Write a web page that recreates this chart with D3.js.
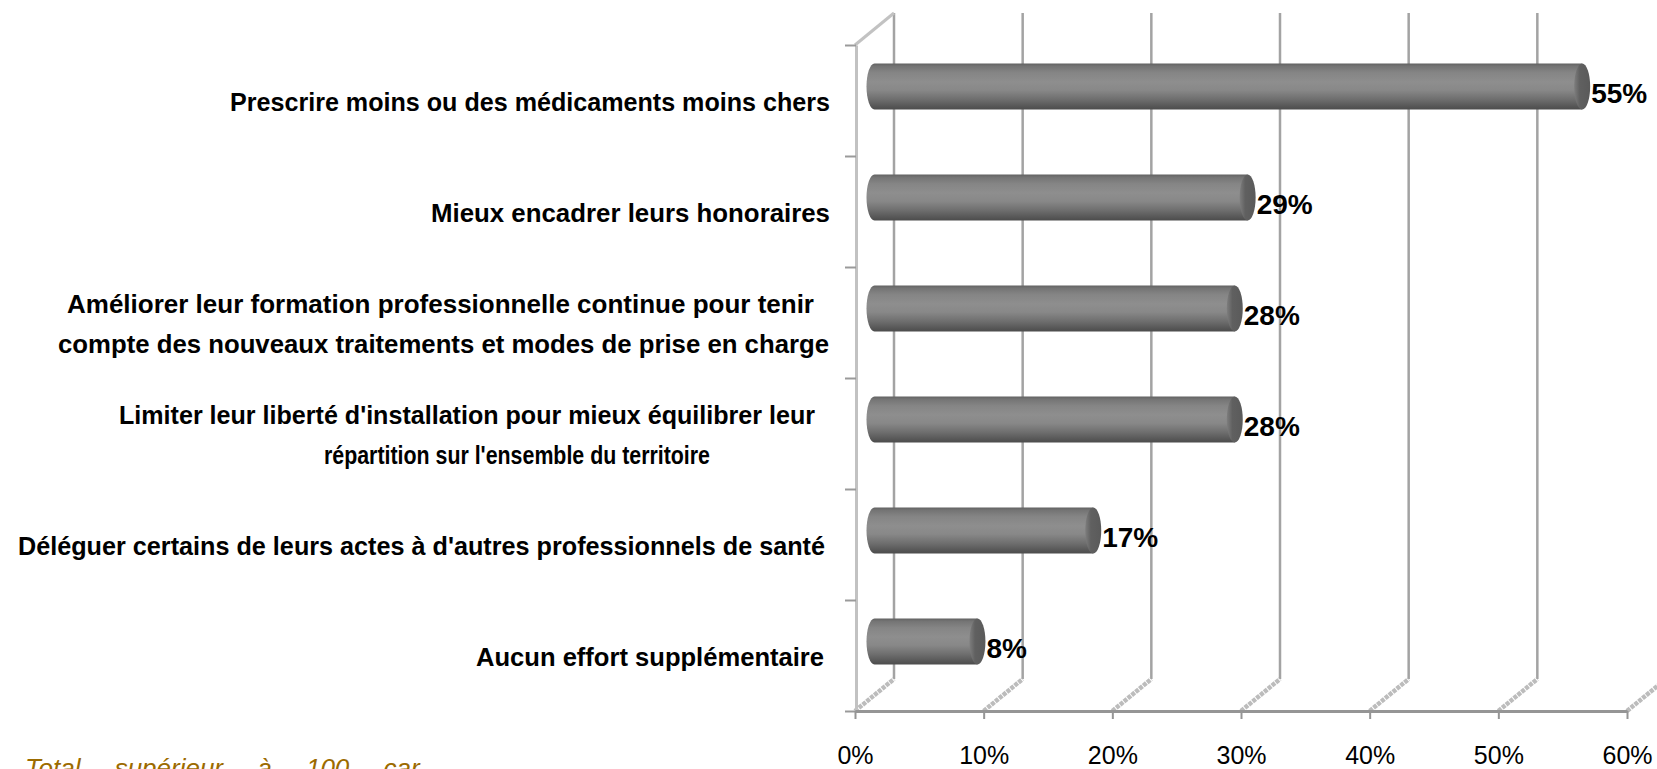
<!DOCTYPE html>
<html>
<head>
<meta charset="utf-8">
<script src="https://cdn.jsdelivr.net/npm/d3@7"></script>
<style>
  html, body { margin: 0; padding: 0; background: #fff; }
  svg { display: block; }
  text { font-family: "Liberation Sans", Arial, sans-serif; }
</style>
</head>
<body>
<svg id="chart" width="1657" height="769"></svg>
<script>
// ---------- data ----------
const categories = [
  "Prescrire moins ou des médicaments moins chers",
  "Mieux encadrer leurs honoraires",
  "Améliorer leur formation professionnelle continue pour tenir compte des nouveaux traitements et modes de prise en charge",
  "Limiter leur liberté d'installation pour mieux équilibrer leur répartition sur l'ensemble du territoire",
  "Déléguer certains de leurs actes à d'autres professionnels de santé",
  "Aucun effort supplémentaire"
];
const categoryLines = [
  ["Prescrire moins ou des médicaments moins chers"],
  ["Mieux encadrer leurs honoraires"],
  ["Améliorer leur formation professionnelle continue pour tenir", "compte des nouveaux traitements et modes de prise en charge"],
  ["Limiter leur liberté d'installation pour mieux équilibrer leur", "répartition sur l'ensemble du territoire"],
  ["Déléguer certains de leurs actes à d'autres professionnels de santé"],
  ["Aucun effort supplémentaire"]
];
const values = [55, 29, 28, 28, 17, 8];
const xTicks = [0, 10, 20, 30, 40, 50, 60];
const footnote = "Total supérieur à 100 car";

// ---------- layout (not data) ----------
const W = 1657, H = 769;
const plot = { left: 855, right: 1627, top: 45, bottom: 711 };
const depth = { dx: 39, dy: -32 };
const barShift = { dx: 19.5, dy: -14 };
const barRy = 23, barRx = 8;
// horizontal extents of each category label line [start, end]
const labelExtents = [
  [[230, 830]],
  [[431, 830]],
  [[67, 814], [58, 829]],
  [[119, 815], [324, 710]],
  [[18, 825]],
  [[476, 824]]
];

const svg = d3.select("#chart");
const defs = svg.append("defs");

const x = d3.scaleLinear().domain([0, 60]).range([plot.left, plot.right]);
const band = d3.scaleBand().domain(d3.range(categories.length)).range([plot.top, plot.bottom]).padding(0);
const yAxisScale = d3.scaleLinear().domain([categories.length, 0]).range([plot.top, plot.bottom]);

// gradient for cylinder body
const grad = defs.append("linearGradient").attr("id", "cyl").attr("x1", 0).attr("y1", 0).attr("x2", 0).attr("y2", 1);
[[0, "#626262"], [0.06, "#747474"], [0.2, "#858585"], [0.4, "#8e8e8e"], [0.58, "#888888"], [0.78, "#6e6e6e"], [0.92, "#585858"], [1, "#4c4c4c"]]
  .forEach(([o, c]) => grad.append("stop").attr("offset", o).attr("stop-color", c));
const capGrad = defs.append("linearGradient").attr("id", "cap").attr("x1", 0).attr("y1", 0).attr("x2", 1).attr("y2", 0);
[[0, "#7e7e7e"], [0.35, "#606060"], [1, "#5a5a5a"]]
  .forEach(([o, c]) => capGrad.append("stop").attr("offset", o).attr("stop-color", c));

// ---------- back wall gridlines ----------
const grid = svg.append("g");
grid.selectAll("line.grid")
  .data(xTicks.filter(t => x(t) + depth.dx < W))
  .join("line")
  .attr("x1", d => x(d) + depth.dx).attr("x2", d => x(d) + depth.dx)
  .attr("y1", plot.top + depth.dy).attr("y2", plot.bottom + depth.dy)
  .attr("stroke", "#a3a3a3").attr("stroke-width", 2.5);

// floor diagonals
grid.selectAll("line.floor")
  .data(xTicks)
  .join("line")
  .attr("x1", d => x(d)).attr("y1", plot.bottom)
  .attr("x2", d => x(d) + depth.dx).attr("y2", plot.bottom + depth.dy)
  .attr("stroke", "#bcbcbc").attr("stroke-width", 4.5).attr("stroke-dasharray", "4,1");

// left wall top diagonal
grid.append("line")
  .attr("x1", x(0)).attr("y1", plot.top)
  .attr("x2", x(0) + depth.dx).attr("y2", plot.top + depth.dy)
  .attr("stroke", "#c2c2c2").attr("stroke-width", 3);

// ---------- axes ----------
const yAxis = svg.append("g")
  .attr("transform", `translate(${x(0) + 1},0)`)
  .call(d3.axisLeft(yAxisScale).tickValues(d3.range(categories.length + 1)).tickFormat("").tickSize(11).tickSizeOuter(0));
yAxis.select(".domain").attr("stroke", "#c2c2c2").attr("stroke-width", 3);
yAxis.selectAll(".tick line").attr("stroke", "#9a9a9a").attr("stroke-width", 2);

const xAxis = svg.append("g")
  .attr("transform", `translate(0,${plot.bottom})`)
  .call(d3.axisBottom(x).tickValues(xTicks).tickFormat(d => d + "%").tickSize(8).tickSizeOuter(0).tickPadding(27));
xAxis.select(".domain").attr("stroke", "#959595").attr("stroke-width", 3);
xAxis.selectAll(".tick line").attr("stroke", "#959595").attr("stroke-width", 2);
xAxis.selectAll(".tick text")
  .attr("font-family", "Liberation Sans, Arial, sans-serif")
  .attr("font-size", 25).attr("fill", "#000");

// ---------- bars (cylinders) ----------
const bars = svg.append("g");
const cy = i => band(i) + band.bandwidth() / 2 + barShift.dy;
const bx0 = x(0) + barShift.dx;
const bx1 = v => x(v) + barShift.dx;

bars.selectAll("path.body")
  .data(values)
  .join("path")
  .attr("d", (v, i) => {
    const c = cy(i), a = bx0, b = bx1(v);
    return `M${b},${c - barRy} L${a},${c - barRy} A${barRx},${barRy} 0 0 0 ${a},${c + barRy} L${b},${c + barRy} Z`;
  })
  .attr("fill", "url(#cyl)");

bars.selectAll("ellipse.cap")
  .data(values)
  .join("ellipse")
  .attr("cx", v => bx1(v))
  .attr("cy", (v, i) => cy(i))
  .attr("rx", barRx).attr("ry", barRy)
  .attr("fill", "url(#cap)");

// value labels
svg.append("g").selectAll("text")
  .data(values)
  .join("text")
  .attr("x", v => bx1(v) + barRx + 1)
  .attr("y", (v, i) => cy(i) + 16)
  .attr("font-size", 28).attr("font-weight", "bold").attr("fill", "#000")
  .text(v => v + "%");

// ---------- category labels ----------
const catG = svg.append("g");
categoryLines.forEach((lines, i) => {
  const center = band(i) + band.bandwidth() / 2;
  const lh = 40;
  lines.forEach((ln, j) => {
    const ext = labelExtents[i][j];
    const yc = center + 1 + (j - (lines.length - 1) / 2) * lh;
    catG.append("text")
      .attr("x", ext[0])
      .attr("y", yc + 9)
      .attr("textLength", ext[1] - ext[0])
      .attr("lengthAdjust", "spacingAndGlyphs")
      .attr("font-size", 26).attr("font-weight", "bold").attr("fill", "#000")
      .text(ln);
  });
});

// ---------- footnote ----------
svg.append("text")
  .attr("x", 25).attr("y", 777)
  .attr("font-size", 26).attr("font-style", "italic")
  .attr("word-spacing", 27)
  .attr("fill", "#9c6b00")
  .text(footnote);
</script>
</body>
</html>
